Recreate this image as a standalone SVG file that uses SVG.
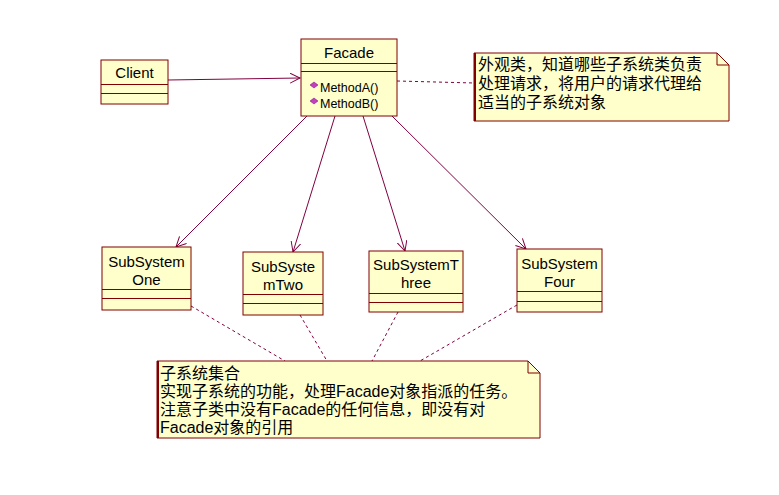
<svg xmlns="http://www.w3.org/2000/svg" width="779" height="495" viewBox="0 0 779 495">
<defs>
<style>
.box{fill:#FFFFCC;stroke:#800000;stroke-width:1}
.ln{stroke:#800000;stroke-width:1}
.t{font-family:"Liberation Sans",Arial,sans-serif;font-size:15px;fill:#000}
.m{font-family:"Liberation Sans",Arial,sans-serif;font-size:12.5px;fill:#000}
.n{font-family:"Liberation Sans","Noto Sans CJK SC",sans-serif;font-size:16px;fill:#000}
.con{stroke:#800040;stroke-width:1;fill:none}
.dash{stroke:#800040;stroke-width:1;fill:none;stroke-dasharray:3,3}
.note{fill:#FFFFCC;stroke:#800000;stroke-width:1}
.dia{fill:#C040C0;stroke:#800080;stroke-width:0.5}
</style>
<marker id="arr" markerWidth="12" markerHeight="12" refX="10" refY="5" orient="auto" markerUnits="userSpaceOnUse">
<path d="M0,0 L10,5 L0,10" fill="none" stroke="#800040" stroke-width="1"/>
</marker>
</defs>
<rect width="779" height="495" fill="#fff"/>
<g id="connectors">
<line class="con" x1="168" y1="80" x2="300" y2="78" marker-end="url(#arr)"/>
<line class="con" x1="307" y1="116" x2="176" y2="247" marker-end="url(#arr)"/>
<line class="con" x1="335" y1="116" x2="293" y2="252" marker-end="url(#arr)"/>
<line class="con" x1="363" y1="116" x2="405" y2="251" marker-end="url(#arr)"/>
<line class="con" x1="392" y1="116" x2="526" y2="249" marker-end="url(#arr)"/>
<line class="dash" x1="397" y1="81" x2="474" y2="83"/>
<line class="dash" x1="191" y1="306" x2="285" y2="361"/>
<line class="dash" x1="300" y1="315" x2="327" y2="361"/>
<line class="dash" x1="398" y1="312" x2="372" y2="361"/>
<line class="dash" x1="517" y1="305" x2="420" y2="361"/>
</g>
<g id="client">
<rect class="box" x="101" y="60" width="67" height="44"/>
<line class="ln" x1="101" y1="84.5" x2="168" y2="84.5"/>
<line class="ln" x1="101" y1="93.5" x2="168" y2="93.5"/>
<text class="t" x="134.5" y="78" text-anchor="middle">Client</text>
</g>
<g id="facade">
<rect class="box" x="301" y="39" width="96" height="77"/>
<line class="ln" x1="301" y1="63.5" x2="397" y2="63.5"/>
<line class="ln" x1="301" y1="71.5" x2="397" y2="71.5"/>
<text class="t" x="349" y="58" text-anchor="middle">Facade</text>
<path class="dia" d="M314,82 L318,85 L314,88 L310,85 Z"/>
<text class="m" x="320" y="92">MethodA()</text>
<path class="dia" d="M314,98 L318,101 L314,104 L310,101 Z"/>
<text class="m" x="320" y="108">MethodB()</text>
</g>
<g id="note1">
<path class="note" d="M474,53 L717,53 L729,65 L729,121 L474,121 Z"/>
<path d="M717,53 L717,65 L729,65" fill="none" stroke="#800000"/>
<line x1="475" y1="53" x2="475" y2="121" stroke="#800000" stroke-width="2"/>
<text class="n" x="478" y="70">外观类，知道哪些子系统类负责</text>
<text class="n" x="478" y="89">处理请求，将用户的请求代理给</text>
<text class="n" x="478" y="108">适当的子系统对象</text>
</g>
<g id="subOne">
<rect class="box" x="102" y="247" width="89" height="63"/>
<line class="ln" x1="102" y1="289.5" x2="191" y2="289.5"/>
<line class="ln" x1="102" y1="298.5" x2="191" y2="298.5"/>
<text class="t" x="146.5" y="267" text-anchor="middle">SubSystem</text>
<text class="t" x="146.5" y="285" text-anchor="middle">One</text>
</g>
<g id="subTwo">
<rect class="box" x="243" y="252" width="80" height="63"/>
<line class="ln" x1="243" y1="294.5" x2="323" y2="294.5"/>
<line class="ln" x1="243" y1="303.5" x2="323" y2="303.5"/>
<text class="t" x="283" y="272" text-anchor="middle">SubSyste</text>
<text class="t" x="283" y="290" text-anchor="middle">mTwo</text>
</g>
<g id="subThree">
<rect class="box" x="369" y="251" width="94" height="61"/>
<line class="ln" x1="369" y1="293.5" x2="463" y2="293.5"/>
<line class="ln" x1="369" y1="302.5" x2="463" y2="302.5"/>
<text class="t" x="416" y="270" text-anchor="middle">SubSystemT</text>
<text class="t" x="416" y="288" text-anchor="middle">hree</text>
</g>
<g id="subFour">
<rect class="box" x="517" y="249" width="85" height="63"/>
<line class="ln" x1="517" y1="291.5" x2="602" y2="291.5"/>
<line class="ln" x1="517" y1="301.5" x2="602" y2="301.5"/>
<text class="t" x="559.5" y="269" text-anchor="middle">SubSystem</text>
<text class="t" x="559.5" y="287" text-anchor="middle">Four</text>
</g>
<g id="note2">
<path class="note" d="M157,361 L528,361 L540,373 L540,438 L157,438 Z"/>
<path d="M528,361 L528,373 L540,373" fill="none" stroke="#800000"/>
<line x1="158" y1="361" x2="158" y2="438" stroke="#800000" stroke-width="2"/>
<text class="n" x="160" y="379">子系统集合</text>
<text class="n" x="160" y="397">实现子系统的功能，处理Facade对象指派的任务。</text>
<text class="n" x="160" y="415">注意子类中没有Facade的任何信息，即没有对</text>
<text class="n" x="160" y="433">Facade对象的引用</text>
</g>
</svg>
